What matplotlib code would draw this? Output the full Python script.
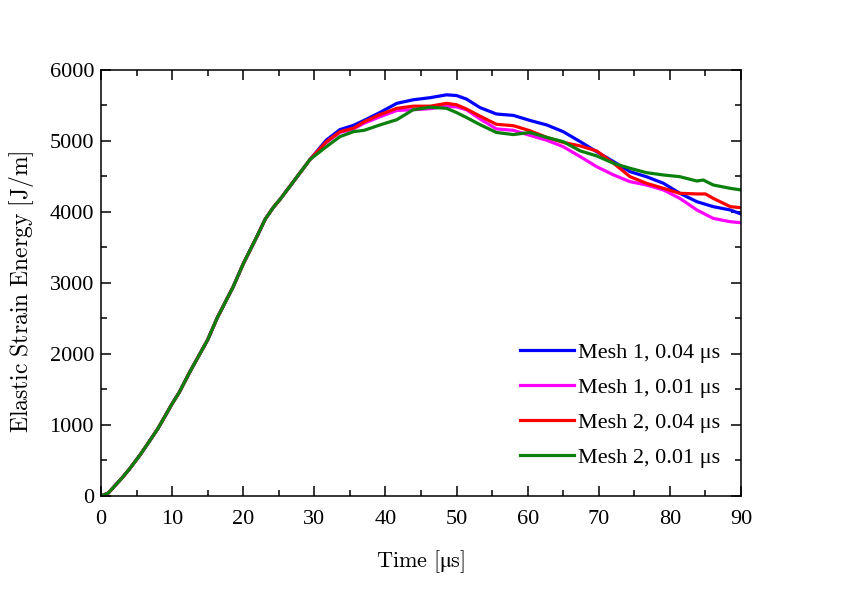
import numpy as np
import matplotlib
matplotlib.use("Agg")
import matplotlib.pyplot as plt
from matplotlib.ticker import MultipleLocator

plt.rcParams['font.family'] = ['Liberation Serif', 'DejaVu Serif']
plt.rcParams['mathtext.fontset'] = 'cm'

# shared loading ramp (all four runs coincide here)
ramp_t = [0, 1, 2, 3, 4, 5.5, 7, 8, 10, 11, 12.5, 15, 16.3, 18.6, 20, 21.9, 23.1, 24.2, 25.2, 27, 29.4]
ramp_e = [0, 40, 150, 260, 380, 580, 800, 950, 1300, 1460, 1750, 2200, 2500, 2950, 3270, 3650, 3900, 4060, 4180, 4420, 4740]

# Mesh 1, 0.04 us
m1a_t = [31.7, 33.6, 35.5, 37, 39.2, 41.6, 43.9, 46.3, 48.6, 50, 51.4, 53.3, 55.6, 58, 60.3, 62.7, 65,
         67.4, 69.7, 72.1, 74.4, 76.7, 79.1, 81.4, 83.8, 86.1, 88.5, 90]
m1a_e = [5014, 5160, 5220, 5290, 5400, 5530, 5580, 5610, 5650, 5640, 5590, 5470, 5380, 5360, 5290, 5225, 5131,
         4990, 4849, 4708, 4568, 4497, 4404, 4263, 4145, 4075, 4028, 3972]

# Mesh 1, 0.01 us
m1b_t = [31.7, 33.6, 35.5, 37, 39.2, 41.6, 43.9, 46.3, 48.6, 50, 51.4, 53.3, 55.6, 58, 60.3, 62.7, 65,
         67.4, 69.7, 72.1, 74.4, 76.7, 79.1, 81.4, 83.8, 86.1, 88.5, 90]
m1b_e = [4980, 5120, 5170, 5250, 5340, 5430, 5440, 5455, 5490, 5480, 5440, 5310, 5170, 5150, 5080, 5010, 4920,
         4779, 4638, 4521, 4427, 4380, 4310, 4192, 4028, 3910, 3863, 3849]

# Mesh 2, 0.04 us
m2a_t = [31.7, 33.6, 35.5, 37, 39.2, 41.6, 43.9, 46.3, 48.6, 50, 51.4, 53.3, 55.6, 58, 60.3, 62.7, 65,
         67.4, 69.7, 72.1, 74.4, 76.7, 79.1, 81.4, 83.8, 85, 86.1, 88.5, 90]
m2a_e = [4990, 5130, 5180, 5270, 5370, 5460, 5490, 5490, 5530, 5510, 5450, 5350, 5235, 5215, 5145, 5050, 4980,
         4930, 4860, 4685, 4497, 4404, 4333, 4263, 4254, 4254, 4192, 4075, 4060]

# Mesh 2, 0.01 us
m2b_t = [31.7, 33.6, 35.5, 37, 39.2, 41.6, 43.9, 46.3, 48.6, 50, 51.4, 53.3, 55.6, 58, 60.3, 62.7, 65,
         67.4, 69.7, 72.1, 74.4, 76.7, 79.1, 81.4, 83.8, 84.7, 86.1, 88.5, 90]
m2b_e = [4920, 5061, 5131, 5150, 5225, 5300, 5440, 5475, 5460, 5400, 5330, 5230, 5120, 5090, 5120, 5050, 4990,
         4860, 4790, 4685, 4615, 4554, 4521, 4497, 4436, 4450, 4380, 4333, 4310]

labels = ['Mesh 1, 0.04 μs', 'Mesh 1, 0.01 μs', 'Mesh 2, 0.04 μs', 'Mesh 2, 0.01 μs']
colors = ['#0000ff', '#ff00ff', '#ff0000', '#0c800c']
series = [(m1a_t, m1a_e), (m1b_t, m1b_e), (m2a_t, m2a_e), (m2b_t, m2b_e)]

fig = plt.figure(figsize=(8.42, 5.96), dpi=100)
ax = fig.add_axes([0.12, 0.1678, 0.76, 0.7148])

for (t, e), c, lab in zip(series, colors, labels):
    ax.plot(ramp_t + t, ramp_e + e, color=c, lw=2.3, label=lab)

ax.set_xlim(0, 90)
ax.set_ylim(0, 6000)
ax.xaxis.set_major_locator(MultipleLocator(10))
ax.xaxis.set_minor_locator(MultipleLocator(5))
ax.yaxis.set_major_locator(MultipleLocator(1000))
ax.yaxis.set_minor_locator(MultipleLocator(500))
ax.tick_params(which='both', direction='in', top=True, right=True, width=1.1, labelsize=16)
ax.tick_params(which='major', length=7, pad=5)
ax.tick_params(which='minor', length=4)
ax.tick_params(axis='x', which='major', pad=10)
for s in ax.spines.values():
    s.set_linewidth(1.1)

ax.set_xlabel(r'$\mathrm{Time\ [μs]}$', fontsize=16)
ax.set_ylabel(r'$\mathrm{Elastic\ Strain\ Energy\ [J/m]}$', fontsize=17)
ax.xaxis.set_label_coords(0.5, -0.122)
ax.yaxis.set_label_coords(-0.102, 0.479)

ax.legend(loc='upper left', bbox_to_anchor=(0.655, 0.36), frameon=False, fontsize=16,
          handlelength=2.4, handletextpad=0.2, labelspacing=0.64, borderpad=0, borderaxespad=0)

fig.savefig('out.png', dpi=100)
